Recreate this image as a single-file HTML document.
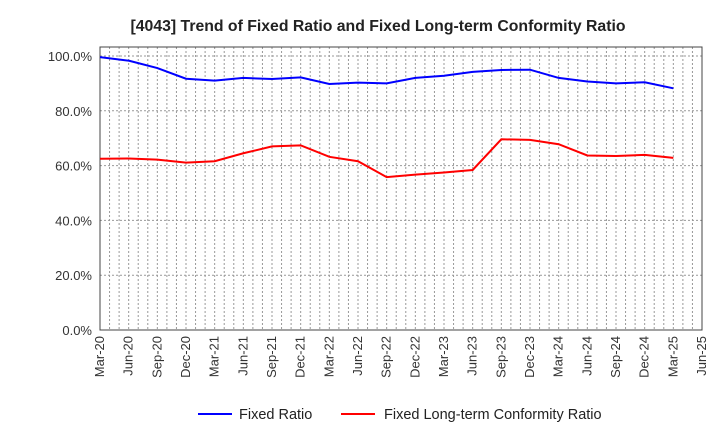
<!DOCTYPE html>
<html><head><meta charset="utf-8"><style>
body{margin:0;background:#fff;font-family:"Liberation Sans",sans-serif}
svg text{font-family:"Liberation Sans",sans-serif}
</style></head><body>
<svg width="720" height="440">
<text x="378" y="31" text-anchor="middle" font-size="15.8" font-weight="bold" fill="#222">[4043]  Trend of Fixed Ratio and Fixed Long-term Conformity Ratio</text>
<g id="grid"></g>
<g id="axes"></g>
<g id="series"></g>
<g>
<line x1="198" y1="414" x2="232" y2="414" stroke="#0000ff" stroke-width="2"/>
<text x="239" y="419" font-size="14.5" fill="#222">Fixed Ratio</text>
<line x1="341" y1="414" x2="375" y2="414" stroke="#ff0000" stroke-width="2"/>
<text x="384" y="419" font-size="14.5" fill="#222">Fixed Long-term Conformity Ratio</text>
</g>
</svg>
<script>
const tickLabels=["Mar-20","Jun-20","Sep-20","Dec-20","Mar-21","Jun-21","Sep-21","Dec-21","Mar-22","Jun-22","Sep-22","Dec-22","Mar-23","Jun-23","Sep-23","Dec-23","Mar-24","Jun-24","Sep-24","Dec-24","Mar-25","Jun-25"];
const yTicks=[0,20,40,60,80,100];
const fixedRatio=[99.6,98.3,95.6,91.7,91.0,92.0,91.6,92.2,89.8,90.3,90.0,92.0,92.8,94.2,94.9,95.0,92.0,90.7,90.0,90.4,88.2];
const conformityRatio=[62.5,62.6,62.2,61.1,61.6,64.5,67.0,67.4,63.2,61.6,55.8,56.7,57.5,58.4,69.6,69.4,67.8,63.7,63.5,63.9,62.8];
const L=100,R=702,T=47,B=330,NS="http://www.w3.org/2000/svg";
const xs=i=>L+i*(R-L)/21;
const ys=v=>B-v*(B-56)/100;
function mk(tag,attrs,parent){const e=document.createElementNS(NS,tag);for(const k in attrs)e.setAttribute(k,attrs[k]);parent.appendChild(e);return e;}
const grid=document.getElementById('grid'),axes=document.getElementById('axes'),series=document.getElementById('series');
for(let m=1;m<63;m++){const x=L+m*(R-L)/63;const g=mk('line',{x1:x,x2:x,y1:T,y2:B,stroke:'#999','stroke-dasharray':'2,2','stroke-width':1},grid);

}
yTicks.forEach(v=>{const y=ys(v);const g=mk('line',{x1:L,x2:R,y1:y,y2:y,stroke:'#999','stroke-dasharray':'2,2'},grid);


const t=mk('text',{x:L-8,y:y+5,'text-anchor':'end','font-size':13,fill:'#333'},axes);t.textContent=v.toFixed(1)+'%';

});
const fr=mk('rect',{x:L,y:T,width:R-L,height:B-T,fill:'none',stroke:'#444'},axes);


tickLabels.forEach((s,i)=>{const x=xs(i);const t=mk('text',{x:x+4,y:B+6,'text-anchor':'end','font-size':13,fill:'#333',transform:`rotate(-90 ${x+4} ${B+6})`},axes);t.textContent=s;

});
function line(d,c,n){const p=mk('polyline',{points:d.map((v,i)=>xs(i)+','+ys(v)).join(' '),fill:'none',stroke:c,'stroke-width':2},series);

}
line(fixedRatio,'#0000ff','fixed-ratio-line');
line(conformityRatio,'#ff0000','conformity-ratio-line');
</script>
</body></html>
